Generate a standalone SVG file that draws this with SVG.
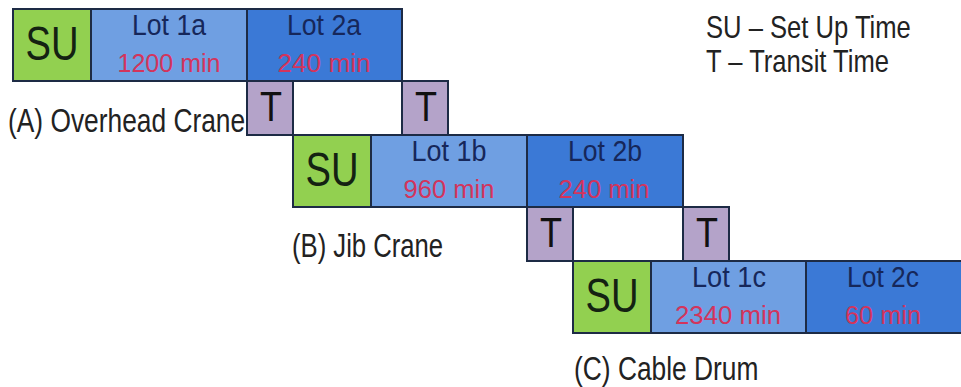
<svg xmlns="http://www.w3.org/2000/svg" width="961" height="387" viewBox="0 0 961 387">
<style>
  .box { stroke: #1d2b45; stroke-width: 2; }
  .su { fill: #92d050; }
  .l1 { fill: #6f9fe2; }
  .l2 { fill: #3b79d6; }
  .t { fill: #b4a3c9; }
  text { font-family: "Liberation Sans", Arial, sans-serif; text-anchor: middle; }
  .sut { font-size: 48px; fill: #142212; }
  .lot { font-size: 30px; fill: #16275a; }
  .min { font-size: 26px; fill: #d3345c; }
  .tt { font-size: 43px; fill: #111111; }
  .lbl { font-size: 34px; fill: #222222; text-anchor: start; }
  .leg { font-size: 32px; fill: #222222; text-anchor: start; }
</style>
<rect width="961" height="387" fill="#ffffff"/>
<g id="connectors"/>

<!-- Row A -->
<g id="su-a"><rect class="box su" x="13" y="9" width="78" height="72"/><text class="sut" x="52" y="60" textLength="53" lengthAdjust="spacingAndGlyphs">SU</text></g>
<g id="lot-1a"><rect class="box l1" x="91" y="9" width="156" height="72"/><text class="lot" x="169" y="35" textLength="74" lengthAdjust="spacingAndGlyphs">Lot 1a</text><text class="min" x="169" y="72" textLength="103" lengthAdjust="spacingAndGlyphs">1200 min</text></g>
<g id="lot-2a"><rect class="box l2" x="247" y="9" width="155" height="72"/><text class="lot" x="324" y="35" textLength="74" lengthAdjust="spacingAndGlyphs">Lot 2a</text><text class="min" x="324" y="72" textLength="93" lengthAdjust="spacingAndGlyphs">240 min</text></g>
<g id="t-a1"><rect class="box t" x="247" y="81" width="46" height="54"/><text class="tt" x="271" y="121" textLength="22" lengthAdjust="spacingAndGlyphs">T</text></g>
<g id="t-a2"><rect class="box t" x="402" y="81" width="46" height="54"/><text class="tt" x="426" y="121" textLength="22" lengthAdjust="spacingAndGlyphs">T</text></g>
<g id="label-a"><text class="lbl" transform="translate(8,132) scale(0.775,1)">(A) Overhead Crane</text></g>

<!-- Row B -->
<g id="su-b"><rect class="box su" x="293" y="135" width="78" height="72"/><text class="sut" x="332" y="186" textLength="53" lengthAdjust="spacingAndGlyphs">SU</text></g>
<g id="lot-1b"><rect class="box l1" x="371" y="135" width="156" height="72"/><text class="lot" x="449" y="161" textLength="75" lengthAdjust="spacingAndGlyphs">Lot 1b</text><text class="min" x="449" y="198" textLength="91" lengthAdjust="spacingAndGlyphs">960 min</text></g>
<g id="lot-2b"><rect class="box l2" x="527" y="135" width="156" height="72"/><text class="lot" x="605" y="161" textLength="74" lengthAdjust="spacingAndGlyphs">Lot 2b</text><text class="min" x="604" y="198" textLength="91" lengthAdjust="spacingAndGlyphs">240 min</text></g>
<g id="t-b1"><rect class="box t" x="527" y="207" width="46" height="54"/><text class="tt" x="551" y="247" textLength="22" lengthAdjust="spacingAndGlyphs">T</text></g>
<g id="t-b2"><rect class="box t" x="683" y="207" width="46" height="54"/><text class="tt" x="707" y="247" textLength="22" lengthAdjust="spacingAndGlyphs">T</text></g>
<g id="label-b"><text class="lbl" transform="translate(292,257) scale(0.755,1)">(B) Jib Crane</text></g>

<!-- Row C -->
<g id="su-c"><rect class="box su" x="573" y="261" width="78" height="72"/><text class="sut" x="612" y="312" textLength="53" lengthAdjust="spacingAndGlyphs">SU</text></g>
<g id="lot-1c"><rect class="box l1" x="651" y="261" width="155" height="72"/><text class="lot" x="729" y="287" textLength="74" lengthAdjust="spacingAndGlyphs">Lot 1c</text><text class="min" x="728" y="324" textLength="106" lengthAdjust="spacingAndGlyphs">2340 min</text></g>
<g id="lot-2c"><rect class="box l2" x="806" y="261" width="158" height="72"/><text class="lot" x="883" y="287" textLength="72" lengthAdjust="spacingAndGlyphs">Lot 2c</text><text class="min" x="883" y="324" textLength="76" lengthAdjust="spacingAndGlyphs">60 min</text></g>
<g id="label-c"><text class="lbl" transform="translate(574,380) scale(0.775,1)">(C) Cable Drum</text></g>

<!-- Legend -->
<g id="legend">
  <text class="leg" transform="translate(706,38) scale(0.8,1)">SU – Set Up Time</text>
  <text class="leg" transform="translate(706,72) scale(0.8,1)">T – Transit Time</text>
</g>
</svg>
